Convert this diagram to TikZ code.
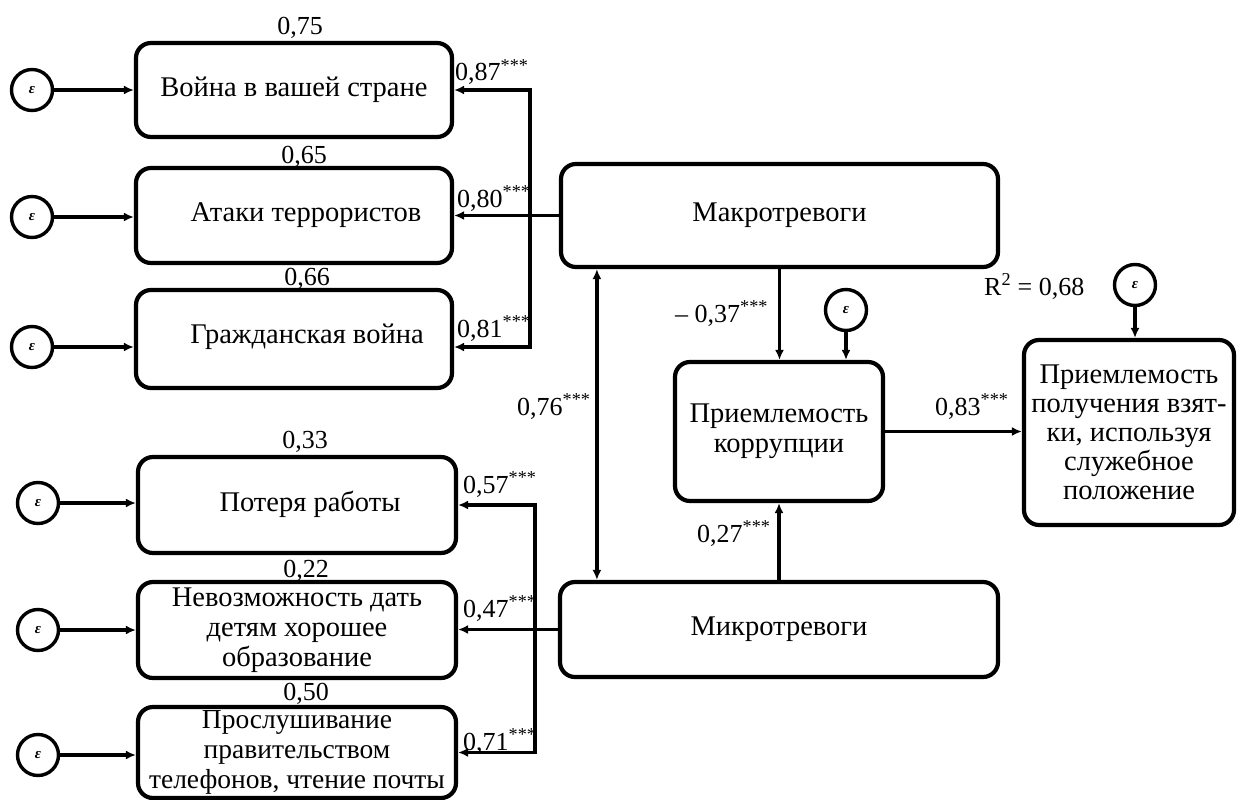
\documentclass[tikz,border=0pt]{standalone}
\usepackage{fontspec}
\setmainfont{Liberation Serif}
\usetikzlibrary{arrows.meta}
\begin{document}
\begin{tikzpicture}[x=1pt,y=-1pt,
  box/.style={draw, line width=4.2pt, rounded corners=15pt, align=center, inner sep=0pt, font=\fontsize{28.5}{30}\selectfont},
  err/.style={draw, circle, line width=3.4pt, minimum size=41pt, inner sep=0pt, font=\fontsize{15}{15}\selectfont\bfseries\itshape},
  conn/.style={line width=3.4pt},
  arr/.style={conn, -{Latex[length=10pt,width=9pt]}},
  darr/.style={conn, {Latex[length=10pt,width=9pt]}-{Latex[length=10pt,width=9pt]}},
  lab/.style={inner sep=0pt, anchor=base west, font=\fontsize{26}{28}\selectfont},
  val/.style={inner sep=0pt, anchor=base, font=\fontsize{26}{28}\selectfont}]
\useasboundingbox (0,0) rectangle (1237,800);

% left boxes
\node[box, minimum width=316pt, minimum height=94pt] (b1) at (294,90) {Война в вашей стране};
\node[box, minimum width=316pt, minimum height=95pt] (b2) at (294,215.5) {\hspace*{24pt}Атаки террористов};
\node[box, minimum width=316pt, minimum height=98pt] (b3) at (294,339) {\hspace*{26pt}\raisebox{11pt}{Гражданская война}};
\node[box, minimum width=318pt, minimum height=96pt] (b4) at (297,505) {\hspace*{26pt}\raisebox{7pt}{Потеря работы}};
\node[box, minimum width=318pt, minimum height=96pt] (b5) at (297,630) {Невозможность дать\\детям хорошее\\образование};
\node[box, minimum width=318pt, minimum height=91pt, font=\fontsize{27.5}{30}\selectfont] (b6) at (297,752.5) {Прослушивание\\правительством\\телефонов, чтение почты};

% central and right boxes
\node[box, minimum width=437pt, minimum height=103pt] (macro) at (779.5,215.5) {Макротревоги};
\node[box, minimum width=438pt, minimum height=95pt] (micro) at (779,629.5) {Микротревоги};
\node[box, minimum width=208pt, minimum height=139pt] (korr) at (779,431.5) {Приемлемость\\коррупции};
\node[box, minimum width=210pt, minimum height=185pt, font=\fontsize{28.5}{29}\selectfont] (rb) at (1129,432.5) {Приемлемость\\получения взят-\\ки, используя\\служебное\\положение};

% error terms
\node[err] (e1) at (32,90) {ε};
\node[err] (e2) at (32,217) {ε};
\node[err] (e3) at (32,347) {ε};
\node[err] (e4) at (38,503) {ε};
\node[err] (e5) at (38,630) {ε};
\node[err] (e6) at (38,755) {ε};
\node[err] (e7) at (846,310) {ε};
\node[err] (e8) at (1135,285) {ε};

\foreach \i in {1,...,6} \draw[arr] (e\i) -- (e\i -| b\i.west);

% macro loadings
\coordinate (jm) at (530,215.5);
\draw[arr] (macro.west) -- (macro.west -| b2.east);
\draw[arr] (jm) |- (b1.east);
\draw[arr] (jm) |- ([yshift=-8pt]b3.east);

% micro loadings
\coordinate (jn) at (535,630);
\draw[arr] (micro.west) -- (micro.west -| b5.east);
\draw[arr] (jn) |- (b4.east);
\draw[arr] (jn) |- (b6.east);

% structural paths
\draw[arr] (macro.south) -- (macro.south |- korr.north);
\draw[arr] (e7) -- (e7 |- korr.north);
\draw[arr] (micro.north) -- (micro.north |- korr.south);
\draw[arr] (korr.east) -- (korr.east -| rb.west);
\draw[arr] (e8) -- (e8 |- rb.north);
\draw[darr] ([xshift=38pt]macro.south west) -- ([xshift=39pt]micro.north west);

% labels
\node[val] (v1) at (300,35) {0,75};
\node[val] (v2) at (304,163) {0,65};
\node[val] (v3) at (307,285) {0,66};
\node[val] (v4) at (305,448) {0,33};
\node[val] (v5) at (306,577) {0,22};
\node[val] (v6) at (306,700) {0,50};

\node[lab] (l87) at (455,81) {0,87\textsuperscript{***}};
\node[lab] (l80) at (457,207) {0,80\textsuperscript{***}};
\node[lab] (l81) at (457,337) {0,81\textsuperscript{***}};
\node[lab] (l57) at (463,493) {0,57\textsuperscript{***}};
\node[lab] (l47) at (463,617) {0,47\textsuperscript{***}};
\node[lab] (l71) at (463,750) {0,71\textsuperscript{***}};
\node[lab] (l76) at (517,415) {0,76\textsuperscript{***}};
\node[lab] (l83) at (935,415) {0,83\textsuperscript{***}};
\node[lab] (l27) at (697,542) {0,27\textsuperscript{***}};
\node[lab] (l37) at (675,322) {– 0,37\textsuperscript{***}};
\node[lab] (r2) at (984,295) {R\textsuperscript{2} = 0,68};
\end{tikzpicture}
\end{document}
